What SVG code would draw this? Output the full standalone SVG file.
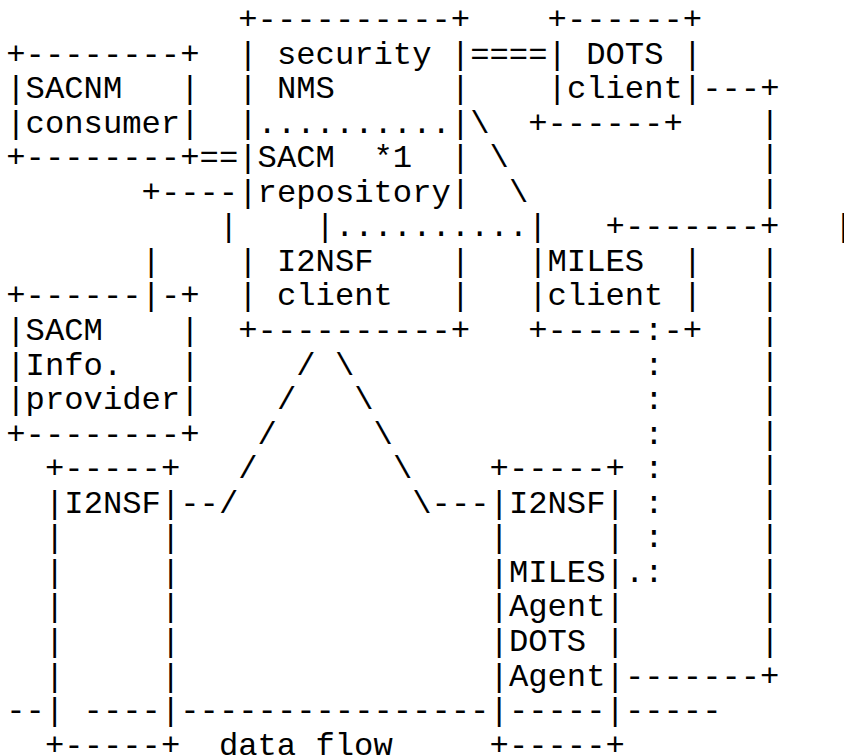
<svg xmlns="http://www.w3.org/2000/svg" width="844" height="756" viewBox="0 0 844 756">
<style>
.t{font-family:"Liberation Mono","Courier New",monospace;font-size:32.2px;fill:#000;white-space:pre}
</style>
<rect width="844" height="756" fill="#fff"/>
<g id="sacnm-consumer">
<text class="t" xml:space="preserve" x="6.3" y="63.6">+--------+</text>
<text class="t" xml:space="preserve" x="6.3" y="98.1">|SACNM   |</text>
<text class="t" xml:space="preserve" x="6.3" y="132.7">|consumer|</text>
<text class="t" xml:space="preserve" x="6.3" y="167.2">+--------+</text>
</g>
<g id="security-nms">
<text class="t" xml:space="preserve" x="238.3" y="29">+----------+</text>
<text class="t" xml:space="preserve" x="238.3" y="63.6">| security |</text>
<text class="t" xml:space="preserve" x="238.3" y="98.1">| NMS      |</text>
<text class="t" xml:space="preserve" x="238.3" y="132.7">|..........|</text>
</g>
<g id="sacm-repository">
<text class="t" xml:space="preserve" x="238.3" y="167.2">|SACM  *1  |</text>
<text class="t" xml:space="preserve" x="238.3" y="201.8">|repository|</text>
</g>
<g id="i2nsf-client">
<text class="t" xml:space="preserve" x="218.9" y="236.3">|</text>
<text class="t" xml:space="preserve" x="315.6" y="236.3">|..........|</text>
<text class="t" xml:space="preserve" x="238.3" y="270.9">| I2NSF    |</text>
<text class="t" xml:space="preserve" x="238.3" y="305.4">| client   |</text>
<text class="t" xml:space="preserve" x="238.3" y="340">+----------+</text>
</g>
<g id="dots-client">
<text class="t" xml:space="preserve" x="547.6" y="29">+------+</text>
<text class="t" xml:space="preserve" x="547.6" y="63.6">| DOTS |</text>
<text class="t" xml:space="preserve" x="547.6" y="98.1">|client|</text>
<text class="t" xml:space="preserve" x="528.2" y="132.7">+------+</text>
</g>
<g id="miles-client">
<text class="t" xml:space="preserve" x="605.6" y="236.3">+-------+</text>
<text class="t" xml:space="preserve" x="528.2" y="270.9">|MILES  |</text>
<text class="t" xml:space="preserve" x="528.2" y="305.4">|client |</text>
<text class="t" xml:space="preserve" x="528.2" y="340">+-----:-+</text>
</g>
<g id="sacm-info-provider">
<text class="t" xml:space="preserve" x="6.3" y="305.4">+------</text>
<text class="t" xml:space="preserve" x="160.9" y="305.4">-+</text>
<text class="t" xml:space="preserve" x="6.3" y="340">|SACM    |</text>
<text class="t" xml:space="preserve" x="6.3" y="374.5">|Info.   |</text>
<text class="t" xml:space="preserve" x="6.3" y="409.1">|provider|</text>
<text class="t" xml:space="preserve" x="6.3" y="443.6">+--------+</text>
</g>
<g id="i2nsf-nsf-left">
<text class="t" xml:space="preserve" x="45" y="478.2">+-----+</text>
<text class="t" xml:space="preserve" x="45" y="512.7">|I2NSF|</text>
<text class="t" xml:space="preserve" x="45" y="547.3">|     |</text>
<text class="t" xml:space="preserve" x="45" y="581.8">|     |</text>
<text class="t" xml:space="preserve" x="45" y="616.4">|     |</text>
<text class="t" xml:space="preserve" x="45" y="650.9">|     |</text>
<text class="t" xml:space="preserve" x="45" y="685.5">|     |</text>
<text class="t" xml:space="preserve" x="45" y="720">|</text>
<text class="t" xml:space="preserve" x="160.9" y="720">|</text>
<text class="t" xml:space="preserve" x="45" y="754.6">+-----+</text>
</g>
<g id="i2nsf-nsf-right">
<text class="t" xml:space="preserve" x="489.6" y="478.2">+-----+</text>
<text class="t" xml:space="preserve" x="489.6" y="512.7">|I2NSF|</text>
<text class="t" xml:space="preserve" x="489.6" y="547.3">|     |</text>
<text class="t" xml:space="preserve" x="489.6" y="581.8">|MILES|</text>
<text class="t" xml:space="preserve" x="489.6" y="616.4">|Agent|</text>
<text class="t" xml:space="preserve" x="489.6" y="650.9">|DOTS |</text>
<text class="t" xml:space="preserve" x="489.6" y="685.5">|Agent|</text>
<text class="t" xml:space="preserve" x="489.6" y="720">|</text>
<text class="t" xml:space="preserve" x="605.6" y="720">|</text>
<text class="t" xml:space="preserve" x="489.6" y="754.6">+-----+</text>
</g>
<g id="connectors">
<text class="t" xml:space="preserve" x="470.2" y="63.6">====</text>
<text class="t" xml:space="preserve" x="702.2" y="98.1">---+</text>
<text class="t" xml:space="preserve" x="470.2" y="132.7">\</text>
<text class="t" xml:space="preserve" x="760.2" y="132.7">|</text>
<text class="t" xml:space="preserve" x="199.6" y="167.2">==</text>
<text class="t" xml:space="preserve" x="489.6" y="167.2">\</text>
<text class="t" xml:space="preserve" x="760.2" y="167.2">|</text>
<text class="t" xml:space="preserve" x="141.6" y="201.8">+----</text>
<text class="t" xml:space="preserve" x="508.9" y="201.8">\</text>
<text class="t" xml:space="preserve" x="760.2" y="201.8">|</text>
<text class="t" xml:space="preserve" x="834" y="236.3">|</text>
<text class="t" xml:space="preserve" x="141.6" y="270.9">|</text>
<text class="t" xml:space="preserve" x="760.2" y="270.9">|</text>
<text class="t" xml:space="preserve" x="141.6" y="305.4">|</text>
<text class="t" xml:space="preserve" x="760.2" y="305.4">|</text>
<text class="t" xml:space="preserve" x="760.2" y="340">|</text>
<text class="t" xml:space="preserve" x="296.3" y="374.5">/</text>
<text class="t" xml:space="preserve" x="334.9" y="374.5">\</text>
<text class="t" xml:space="preserve" x="644.2" y="374.5">:</text>
<text class="t" xml:space="preserve" x="760.2" y="374.5">|</text>
<text class="t" xml:space="preserve" x="276.9" y="409.1">/</text>
<text class="t" xml:space="preserve" x="354.3" y="409.1">\</text>
<text class="t" xml:space="preserve" x="644.2" y="409.1">:</text>
<text class="t" xml:space="preserve" x="760.2" y="409.1">|</text>
<text class="t" xml:space="preserve" x="257.6" y="443.6">/</text>
<text class="t" xml:space="preserve" x="373.6" y="443.6">\</text>
<text class="t" xml:space="preserve" x="644.2" y="443.6">:</text>
<text class="t" xml:space="preserve" x="760.2" y="443.6">|</text>
<text class="t" xml:space="preserve" x="238.3" y="478.2">/</text>
<text class="t" xml:space="preserve" x="392.9" y="478.2">\</text>
<text class="t" xml:space="preserve" x="644.2" y="478.2">:</text>
<text class="t" xml:space="preserve" x="760.2" y="478.2">|</text>
<text class="t" xml:space="preserve" x="180.3" y="512.7">--/</text>
<text class="t" xml:space="preserve" x="412.3" y="512.7">\---</text>
<text class="t" xml:space="preserve" x="644.2" y="512.7">:</text>
<text class="t" xml:space="preserve" x="760.2" y="512.7">|</text>
<text class="t" xml:space="preserve" x="644.2" y="547.3">:</text>
<text class="t" xml:space="preserve" x="760.2" y="547.3">|</text>
<text class="t" xml:space="preserve" x="624.9" y="581.8">.:</text>
<text class="t" xml:space="preserve" x="760.2" y="581.8">|</text>
<text class="t" xml:space="preserve" x="760.2" y="616.4">|</text>
<text class="t" xml:space="preserve" x="760.2" y="650.9">|</text>
<text class="t" xml:space="preserve" x="624.9" y="685.5">-------+</text>
<text class="t" xml:space="preserve" x="6.3" y="720">--</text>
<text class="t" xml:space="preserve" x="83.6" y="720">----</text>
<text class="t" xml:space="preserve" x="180.3" y="720">----------------</text>
<text class="t" xml:space="preserve" x="508.9" y="720">-----</text>
<text class="t" xml:space="preserve" x="624.9" y="720">-----</text>
<text class="t" xml:space="preserve" x="218.9" y="754.6">data flow</text>
</g>
</svg>
